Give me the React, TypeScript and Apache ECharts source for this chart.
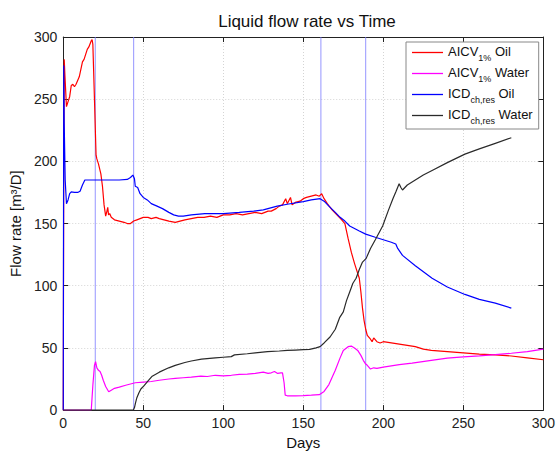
import React, { useEffect, useRef } from 'react';
import * as echarts from 'echarts';

const chartTitle = 'Liquid flow rate vs Time';
const xName = 'Days';
const yName = 'Flow rate [m³/D]';
const xMin = 0, xMax = 300, xStep = 50;
const yMin = 0, yMax = 300, yStep = 50;

const seriesNames = ['AICV 1% Oil', 'AICV 1% Water', 'ICD ch,res Oil', 'ICD ch,res Water'];
const legendLabels = [
  '{a|AICV}{s|1%}{a| Oil}',
  '{a|AICV}{s|1%}{a| Water}',
  '{a|ICD}{s|ch,res}{a| Oil}',
  '{a|ICD}{s|ch,res}{a| Water}',
];
const seriesColors = ['#ff0000', '#ff00ff', '#0000ff', '#2a2a2a'];

const switchDays = [20, 44, 161, 189];

const aicvOil: [number, number][] = [
  [0, 0], [0.3, 200], [0.6, 282], [1, 270], [2, 244], [3, 248], [4, 252], [5, 261], [6, 262], [7, 260],
  [8, 262], [10, 268], [12, 280], [13, 282], [15, 290], [16, 292], [17.5, 297], [18, 298], [18.5, 294],
  [19.5, 250], [20.5, 205], [21, 202], [22, 198], [23.5, 190], [24.5, 180], [25.5, 165], [26.5, 156],
  [27.3, 160], [27.8, 163], [28.3, 157], [29, 158], [30, 155], [32, 153], [35, 152], [38, 151], [40, 150],
  [42, 150], [44, 152], [46, 153], [48, 154], [50, 155], [53, 155], [55, 154], [58, 155], [60, 154],
  [63, 153], [66, 152], [70, 151], [73, 152], [76, 153], [80, 154], [84, 155], [88, 155], [92, 156],
  [96, 155], [100, 157], [104, 157], [108, 158], [112, 157], [116, 158], [120, 159], [124, 158], [128, 160],
  [130, 160], [133, 162], [135, 164], [137, 165], [139, 170], [140, 166], [142, 171], [143, 165], [145, 167],
  [148, 168], [150, 170], [152, 171], [155, 172], [158, 173], [160, 172], [161.5, 174], [163, 170],
  [165, 166], [168, 161], [171, 157], [174, 153], [176, 150], [178, 138], [180, 127], [182, 118], [183, 114],
  [185, 106], [186, 95], [187, 82], [188, 72], [189, 65], [190, 60], [192, 57], [193, 55], [194, 58],
  [196, 55], [198, 54], [200, 55], [205, 54], [210, 53], [215, 52], [220, 51], [225, 49], [230, 48],
  [240, 47], [250, 46], [260, 45], [270, 44.4], [280, 43.5], [290, 42], [300, 40.5],
];

const aicvWater: [number, number][] = [
  [0, 0], [17.5, 0], [18.5, 20], [19.5, 36], [20.2, 39], [21, 34], [22, 32], [23, 31], [24, 28], [25, 24],
  [26.5, 19], [28.4, 14.7], [30, 16], [32, 17.5], [35, 18.5], [39, 20], [42, 21], [45, 22], [50, 22.5],
  [55, 23], [60, 24], [66, 25], [70, 25.5], [75, 26], [80, 26.5], [86, 27.3], [90, 27], [95, 28], [100, 27.5],
  [105, 28], [110, 28.8], [115, 29], [120, 29.5], [125, 30.5], [128, 29.5], [130, 30], [132, 31], [134, 29.5],
  [136, 30], [137, 30], [138, 22], [138.7, 12], [140, 11.5], [145, 11.5], [150, 11.7], [155, 12], [160, 12.4],
  [163, 15], [166, 20.5], [170, 32], [173, 42], [175, 48], [178, 51], [180, 51.5], [182, 50], [184, 48],
  [186, 44], [187.5, 40], [189, 37], [190, 36], [192, 33], [194, 34], [196, 33.5], [200, 34.6], [210, 36.5],
  [218, 37.8], [230, 40], [240, 41.8], [250, 42.8], [260, 43.6], [270, 44.6], [280, 45.7], [290, 47], [300, 49],
];

const icdOil: [number, number][] = [
  [0, 0], [0.3, 277], [0.6, 230], [1.2, 185], [2, 166], [3, 169], [4, 174], [5, 175.5], [7, 175], [9, 175],
  [10.5, 176], [12, 181], [13.5, 185], [16, 185], [20, 185], [25, 185], [30, 185], [35, 185], [40, 185.5],
  [42, 187], [43.5, 189], [44.5, 186], [45, 180], [46.5, 179], [48, 174], [50, 171], [52.5, 169], [55, 166],
  [58.6, 164], [62, 162], [66, 159], [69, 157], [72, 156], [75, 156], [80, 157], [88.5, 158], [100, 158],
  [110, 159], [119, 160], [125, 161], [133.7, 164], [140, 165.5], [150, 167.7], [155, 169], [160.5, 170],
  [163, 168], [166, 164], [170, 159], [173, 155], [176, 152], [179, 148], [182, 146], [185, 144],
  [189, 141.5], [195, 139], [200, 137], [205, 135], [207.8, 133.6], [209, 130], [212, 124.4], [220, 116],
  [230.5, 106], [240, 99], [251, 93], [260, 89], [270, 86], [280, 82],
];

const icdWater: [number, number][] = [
  [0, 0], [43.8, 0], [44.5, 2], [45.2, 6], [46, 10], [47.3, 14], [48.5, 17], [50.4, 19.5], [53, 23.5],
  [55.6, 27.3], [60, 30.5], [65.9, 34], [70, 36], [76, 38.3], [80, 39.5], [86.4, 41], [95, 42], [100, 42.5],
  [105, 43], [107, 44.4], [115, 45.3], [120, 46], [127.6, 47], [135, 47.5], [140, 48], [145, 48.3],
  [150, 48.6], [154, 48.8], [158, 50], [160.5, 51], [163, 54], [166.7, 58.8], [170, 65], [172.8, 74.6],
  [175, 79], [177, 88], [179, 95], [181, 102], [183, 106], [185, 113], [187, 119], [189.3, 122], [192, 130],
  [195, 137], [199.6, 148], [203, 160], [206, 170], [208, 176], [209.9, 182], [211, 179], [212, 177],
  [215, 181], [220, 185], [225, 189], [230.5, 192.7], [240, 199], [251, 205.8], [260, 210], [270, 214.5],
  [280, 219],
];

const seriesData = [aicvOil, aicvWater, icdOil, icdWater];

const FONT = '"Liberation Sans", Arial, Helvetica, sans-serif';
const MARK_COLOR = '#7b7bff';

export default function App() {
  const ref = useRef<HTMLDivElement>(null);
  useEffect(() => {
    const chart = echarts.init(ref.current!, null, { renderer: 'svg' });
    const tickCommon = { inside: true, length: 5, lineStyle: { color: '#222' } };
    const mkX = (pos: 'bottom' | 'top') => ({
      type: 'value', position: pos, min: xMin, max: xMax, interval: xStep,
      name: pos === 'bottom' ? xName : '', nameLocation: 'middle', nameGap: 21,
      nameTextStyle: { fontFamily: FONT, fontSize: 15, color: '#111' },
      axisLine: { show: true, onZero: false, lineStyle: { color: '#222', width: 1 } },
      axisTick: { show: true, ...tickCommon },
      axisLabel: { show: pos === 'bottom', fontFamily: FONT, fontSize: 14, color: '#222', margin: 6 },
      splitLine: { show: pos === 'bottom', lineStyle: { color: '#d4d4d4', type: [1, 2], width: 1 } },
    });
    const mkY = (pos: 'left' | 'right') => ({
      type: 'value', position: pos, min: yMin, max: yMax, interval: yStep,
      name: pos === 'left' ? yName : '', nameLocation: 'middle', nameGap: 35,
      nameTextStyle: { fontFamily: FONT, fontSize: 15, color: '#111' },
      axisLine: { show: true, onZero: false, lineStyle: { color: '#222', width: 1 } },
      axisTick: { show: true, ...tickCommon },
      axisLabel: { show: pos === 'left', fontFamily: FONT, fontSize: 14, color: '#222', margin: 6 },
      splitLine: { show: pos === 'left', lineStyle: { color: '#d4d4d4', type: [1, 2], width: 1 } },
    });
    const markerSeries = switchDays.map((d, k) => ({
      name: 'switch' + k, type: 'line', data: [[d, yMin], [d, yMax]],
      xAxisIndex: 0, yAxisIndex: 0, symbol: 'none', showSymbol: false, silent: true,
      lineStyle: { color: MARK_COLOR, width: 0.8 }, itemStyle: { color: MARK_COLOR }, z: 2,
    }));
    chart.setOption({
      animation: false,
      backgroundColor: '#ffffff',
      title: {
        text: chartTitle, left: 302, top: 8, textAlign: 'center',
        textStyle: { fontFamily: FONT, fontSize: 17, fontWeight: 'normal', color: '#111' },
      },
      grid: { left: 60, right: 12, top: 37, bottom: 37, containLabel: false },
      xAxis: [mkX('bottom'), mkX('top')],
      yAxis: [mkY('left'), mkY('right')],
      legend: {
        orient: 'vertical', left: 406, top: 42, width: 134,
        data: seriesNames, icon: 'rect', itemWidth: 31, itemHeight: 1.3, itemGap: 3,
        padding: [3, 6, 3, 6],
        borderColor: '#888', borderWidth: 1, backgroundColor: '#fff',
        formatter: (name: string) => legendLabels[seriesNames.indexOf(name)],
        textStyle: {
          fontFamily: FONT, color: '#111',
          rich: {
            a: { fontFamily: FONT, fontSize: 13, color: '#111', lineHeight: 15, verticalAlign: 'top' },
            s: { fontFamily: FONT, fontSize: 9, color: '#111', lineHeight: 10, padding: [9, 0, 0, 0], verticalAlign: 'top' },
          },
        },
      },
      series: [
        ...markerSeries,
        ...seriesNames.map((name, i) => ({
          name, type: 'line', data: seriesData[i], xAxisIndex: 0, yAxisIndex: 0,
          symbol: 'none', showSymbol: false, clip: true,
          lineStyle: { color: seriesColors[i], width: 1.2 },
          itemStyle: { color: seriesColors[i] },
          z: 3,
        })),
      ],
    });
    return () => chart.dispose();
  }, []);
  return <div ref={ref} style={{ position: 'absolute', left: 0, top: 0, width: 558, height: 455, background: '#fff' }} />;
}
